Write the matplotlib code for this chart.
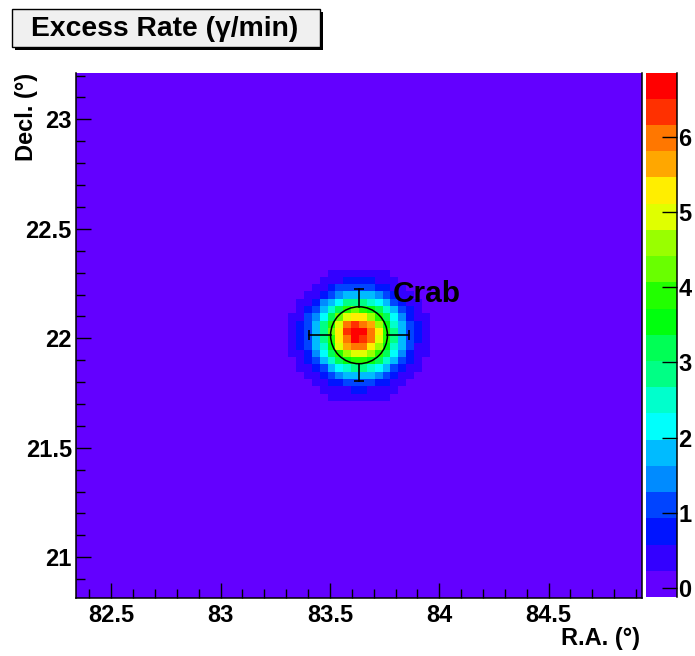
import colorsys
import numpy as np
import matplotlib
matplotlib.use("Agg")
import matplotlib.pyplot as plt
from matplotlib.colors import ListedColormap, BoundaryNorm
from matplotlib.patches import Rectangle, Circle
from matplotlib.ticker import FixedLocator, MultipleLocator, FuncFormatter

# ---------------- data ----------------
title = "Excess Rate (γ/min)"
xlabel = "R.A. (°)"
ylabel = "Decl. (°)"

ra_min, ra_max = 82.339, 84.927
dec_min, dec_max = 20.814, 23.214
n_bins = 72
blob_first_bin = 26

# excess rate (gamma/min) in the 20x20 bins around the source, rows from top (high Decl.) to bottom
blob_rate = [
    [0.00, 0.01, 0.02, 0.03, 0.05, 0.06, 0.10, 0.11, 0.15, 0.16, 0.14, 0.15, 0.11, 0.10, 0.06, 0.05, 0.02, 0.01, 0.01, 0.00],
    [0.01, 0.02, 0.04, 0.07, 0.10, 0.15, 0.24, 0.28, 0.31, 0.35, 0.32, 0.30, 0.27, 0.25, 0.13, 0.09, 0.05, 0.03, 0.02, 0.01],
    [0.02, 0.03, 0.07, 0.12, 0.19, 0.29, 0.40, 0.52, 0.60, 0.66, 0.62, 0.58, 0.49, 0.38, 0.27, 0.17, 0.10, 0.05, 0.03, 0.01],
    [0.03, 0.07, 0.12, 0.21, 0.35, 0.52, 0.72, 0.93, 1.10, 1.18, 1.14, 1.05, 0.88, 0.69, 0.48, 0.31, 0.19, 0.10, 0.05, 0.02],
    [0.05, 0.10, 0.19, 0.35, 0.56, 0.86, 1.20, 1.53, 1.80, 1.95, 1.88, 1.72, 1.46, 1.13, 0.80, 0.52, 0.31, 0.17, 0.08, 0.04],
    [0.07, 0.15, 0.29, 0.52, 0.86, 1.30, 1.81, 2.32, 2.74, 2.98, 2.88, 2.63, 2.22, 1.72, 1.22, 0.80, 0.48, 0.27, 0.13, 0.06],
    [0.09, 0.21, 0.40, 0.72, 1.19, 1.80, 2.53, 3.24, 3.83, 4.16, 4.02, 3.68, 3.11, 2.42, 1.71, 1.13, 0.68, 0.38, 0.19, 0.08],
    [0.12, 0.27, 0.52, 0.93, 1.53, 2.32, 3.24, 4.17, 4.93, 5.35, 5.16, 4.75, 4.00, 3.11, 2.22, 1.46, 0.88, 0.49, 0.25, 0.11],
    [0.14, 0.31, 0.61, 1.10, 1.80, 2.74, 3.83, 4.93, 5.83, 6.33, 6.12, 5.62, 4.74, 3.68, 2.63, 1.73, 1.05, 0.58, 0.29, 0.13],
    [0.15, 0.34, 0.66, 1.19, 1.95, 2.98, 4.16, 5.35, 6.33, 6.85, 6.68, 6.10, 5.14, 4.00, 2.86, 1.88, 1.14, 0.63, 0.32, 0.14],
    [0.15, 0.33, 0.64, 1.16, 1.90, 2.90, 4.05, 5.20, 6.15, 6.62, 6.50, 5.95, 5.02, 3.90, 2.79, 1.83, 1.11, 0.61, 0.31, 0.14],
    [0.14, 0.30, 0.59, 1.06, 1.74, 2.65, 3.71, 4.77, 5.64, 6.05, 5.90, 5.45, 4.60, 3.58, 2.56, 1.68, 1.02, 0.56, 0.28, 0.13],
    [0.12, 0.26, 0.49, 0.88, 1.46, 2.23, 3.12, 4.02, 4.75, 5.10, 5.00, 4.60, 3.88, 3.02, 2.16, 1.42, 0.86, 0.47, 0.24, 0.11],
    [0.09, 0.20, 0.38, 0.68, 1.13, 1.72, 2.42, 3.12, 3.68, 3.98, 3.90, 3.58, 3.02, 2.36, 1.68, 1.10, 0.66, 0.37, 0.18, 0.08],
    [0.07, 0.14, 0.27, 0.49, 0.81, 1.23, 1.72, 2.22, 2.62, 2.85, 2.78, 2.55, 2.16, 1.68, 1.20, 0.79, 0.47, 0.26, 0.13, 0.06],
    [0.04, 0.09, 0.17, 0.32, 0.52, 0.81, 1.12, 1.45, 1.71, 1.86, 1.80, 1.66, 1.40, 1.09, 0.78, 0.51, 0.31, 0.17, 0.09, 0.04],
    [0.03, 0.06, 0.11, 0.19, 0.32, 0.48, 0.68, 0.87, 1.04, 1.12, 1.10, 1.01, 0.86, 0.67, 0.47, 0.31, 0.19, 0.10, 0.05, 0.02],
    [0.01, 0.03, 0.06, 0.10, 0.17, 0.27, 0.38, 0.49, 0.57, 0.62, 0.61, 0.56, 0.47, 0.37, 0.26, 0.17, 0.10, 0.05, 0.03, 0.01],
    [0.01, 0.02, 0.03, 0.06, 0.09, 0.14, 0.25, 0.26, 0.29, 0.32, 0.31, 0.29, 0.26, 0.24, 0.13, 0.08, 0.05, 0.03, 0.02, 0.01],
    [0.00, 0.01, 0.01, 0.03, 0.04, 0.07, 0.09, 0.11, 0.13, 0.15, 0.14, 0.13, 0.11, 0.09, 0.06, 0.04, 0.03, 0.01, 0.01, 0.00],
]

z_min, z_max = -0.12, 6.853
n_levels = 20
cbar_ticks = [0, 1, 2, 3, 4, 5, 6]
x_ticks = [82.5, 83.0, 83.5, 84.0, 84.5]
y_ticks = [21.0, 21.5, 22.0, 22.5, 23.0]

src_name = "Crab"
src_ra, src_dec = 83.633, 22.014
src_radius = 0.13
src_err_ra, src_err_dec = 0.23, 0.21
label_ra, label_dec = 83.786, 22.167

# ---------------- style ----------------
plt.rcParams["font.family"] = ["Liberation Sans", "DejaVu Sans"]
plt.rcParams["font.weight"] = "bold"

W, H = 695, 656
def fx(px):
    return px / W
def fy(py):
    return 1 - py / H

# ROOT "pretty" palette (violet -> red), 20 contour levels
palette = []
for j in range(n_levels):
    idx = int((j + 0.99) * 50 / n_levels)
    hue = 280 - (idx + 1) * 280 / 50
    palette.append(colorsys.hls_to_rgb(hue / 360.0, 0.5, 1.0))
cmap = ListedColormap(palette)
levels = np.linspace(z_min, z_max, n_levels + 1)
norm = BoundaryNorm(levels, cmap.N, clip=True)

fig = plt.figure(figsize=(W / 100, H / 100), dpi=100, facecolor="white")
ax = fig.add_axes([fx(76), fy(598), fx(642) - fx(76), fy(72.5) - fy(598)])
cax = fig.add_axes([fx(646), fy(597), fx(677) - fx(646), fy(72.5) - fy(597)])

# map
grid = np.zeros((n_bins, n_bins))
blob = np.array(blob_rate)[::-1]
nb = blob.shape[0]
grid[blob_first_bin:blob_first_bin + nb, blob_first_bin:blob_first_bin + nb] = blob
x_edges = np.linspace(ra_min, ra_max, n_bins + 1)
y_edges = np.linspace(dec_min, dec_max, n_bins + 1)
mesh = ax.pcolormesh(x_edges, y_edges, grid, cmap=cmap, norm=norm,
                     shading="flat", antialiased=False, rasterized=False)
ax.set_xlim(ra_min, ra_max)
ax.set_ylim(dec_min, dec_max)

# axes style
for side in ["left", "bottom", "right"]:
    ax.spines[side].set_linewidth(1.1)
    ax.spines[side].set_color("black")
ax.spines["top"].set_visible(False)
ax.xaxis.set_major_locator(FixedLocator(x_ticks))
ax.yaxis.set_major_locator(FixedLocator(y_ticks))
ax.xaxis.set_minor_locator(MultipleLocator(0.1))
ax.yaxis.set_minor_locator(MultipleLocator(0.1))
fmt = FuncFormatter(lambda v, p: "%g" % v)
ax.xaxis.set_major_formatter(fmt)
ax.yaxis.set_major_formatter(fmt)
ax.tick_params(which="both", direction="in", top=False, right=False,
               width=1.0, color="black", labelsize=17)
ax.tick_params(which="major", length=11)
ax.tick_params(which="minor", length=6.5)
ax.tick_params(axis="x", which="major", pad=4)
ax.tick_params(axis="y", which="major", pad=3)
for lab in ax.get_xticklabels() + ax.get_yticklabels():
    lab.set_fontweight("bold")

# source marker with error bars
ax.add_patch(Circle((src_ra, src_dec), src_radius, fill=False,
                    edgecolor="black", linewidth=1.1, zorder=5))
ax.plot([src_ra - src_err_ra, src_ra - src_radius], [src_dec, src_dec], color="black", lw=1.2, zorder=5)
ax.plot([src_ra + src_radius, src_ra + src_err_ra], [src_dec, src_dec], color="black", lw=1.2, zorder=5)
ax.plot([src_ra, src_ra], [src_dec - src_err_dec, src_dec - src_radius], color="black", lw=1.2, zorder=5)
ax.plot([src_ra, src_ra], [src_dec + src_radius, src_dec + src_err_dec], color="black", lw=1.2, zorder=5)
ax.plot([src_ra - src_err_ra, src_ra + src_err_ra], [src_dec, src_dec], ls="none",
        marker="|", ms=7, mew=1.2, color="black", zorder=5)
ax.plot([src_ra, src_ra], [src_dec - src_err_dec, src_dec + src_err_dec], ls="none",
        marker="_", ms=7, mew=1.2, color="black", zorder=5)
ax.text(label_ra, label_dec, src_name, fontsize=21.5, fontweight="bold",
        ha="left", va="baseline", color="black", zorder=6)

# colour bar
cb = fig.colorbar(mesh, cax=cax, ticks=cbar_ticks, boundaries=levels)
cb.outline.set_visible(False)
cax.tick_params(which="major", direction="in", length=11, width=1.0,
                labelsize=17, pad=1, color="black")
cax.minorticks_off()
for lab in cax.get_yticklabels():
    lab.set_fontweight("bold")
cax.plot([1, 1], [0, 1], transform=cax.transAxes, color="black", lw=1.1, clip_on=False)

# axis titles
fig.text(fx(640), fy(645), xlabel, ha="right", va="baseline", fontsize=17, fontweight="bold")
fig.text(fx(33), fy(73), ylabel, rotation=90, rotation_mode="anchor",
         ha="right", va="baseline", fontsize=17, fontweight="bold")

# title box with shadow
fig.add_artist(Rectangle((fx(15), fy(50)), fx(323) - fx(15), fy(12) - fy(50),
                         transform=fig.transFigure, facecolor="black", edgecolor="none"))
fig.add_artist(Rectangle((fx(12), fy(47)), fx(320) - fx(12), fy(9) - fy(47),
                         transform=fig.transFigure, facecolor="#f0f0f0", edgecolor="black", linewidth=1.0))
fig.text(fx(165), fy(28.5), title, ha="center", va="center", fontsize=20.3, fontweight="bold")

fig.savefig("out.png", dpi=100, facecolor="white")
